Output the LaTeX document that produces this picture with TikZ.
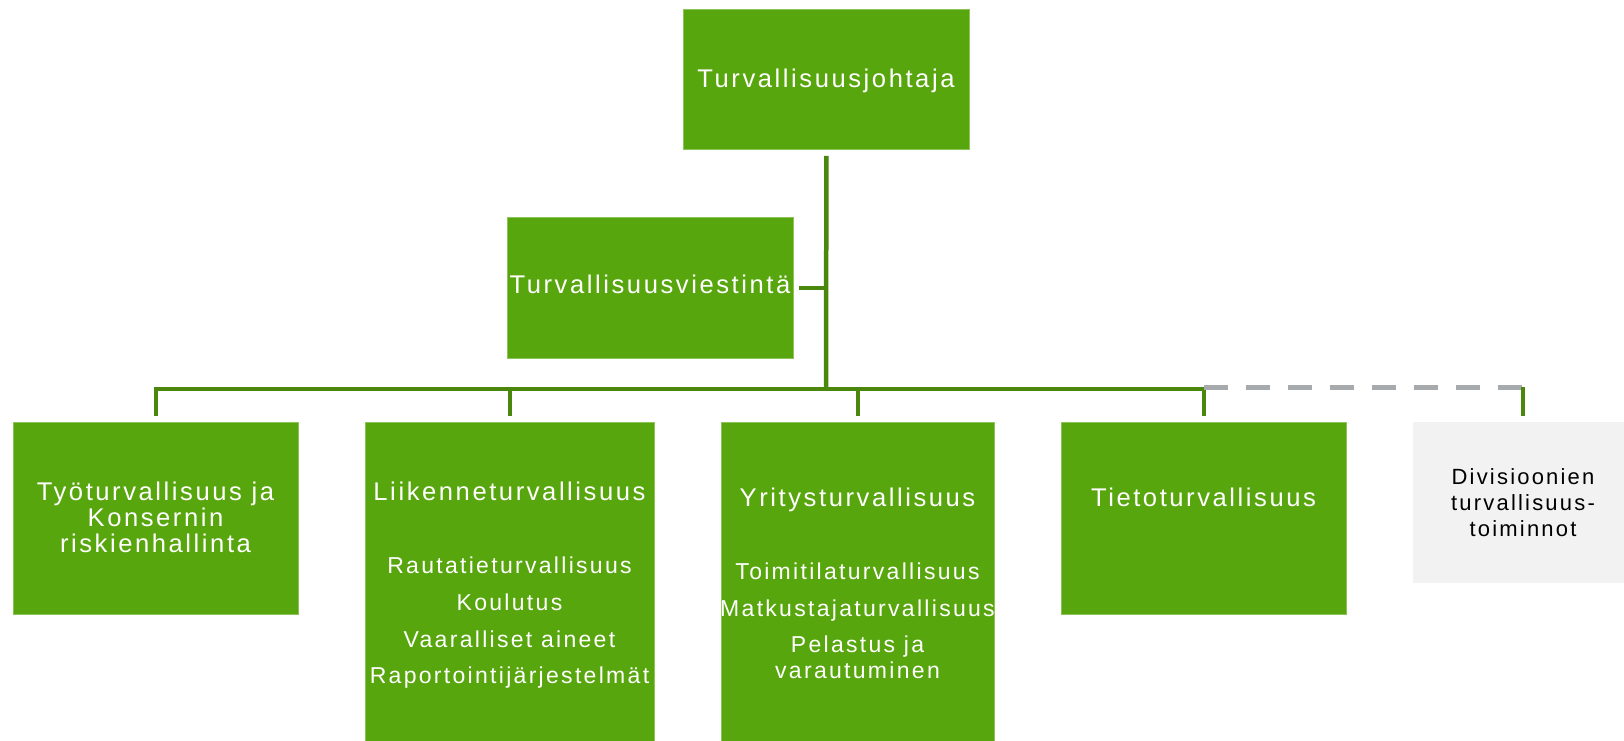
\documentclass[tikz,border=0pt]{standalone}
\usepackage{fontspec}
\setmainfont{Liberation Sans}[LetterSpace=10]
\definecolor{boxgreen}{RGB}{88,166,14}
\definecolor{boxedge}{RGB}{140,196,90}
\definecolor{connGreen}{RGB}{74,135,12}
\definecolor{dashgrey}{RGB}{166,170,173}
\definecolor{lightbox}{RGB}{242,242,242}
\begin{document}
\begin{tikzpicture}[x=1pt,y=-1pt,
  gbox/.style={draw=boxedge, line width=0.8pt, fill=boxgreen, anchor=north west, inner sep=0pt},
  head/.style={anchor=base, inner sep=0pt, text=white, font=\fontsize{25.6}{26}\selectfont},
  sub/.style={anchor=base, inner sep=0pt, text=white, font=\fontsize{23}{26}\selectfont},
  dtxt/.style={anchor=base, inner sep=0pt, text=black, font=\fontsize{22}{26}\selectfont},
  conn/.style={draw=connGreen, line width=4.5pt, line join=miter},
  dashline/.style={draw=dashgrey, line width=5pt, dash pattern=on 24pt off 18pt}]
\useasboundingbox[fill=white] (0,0) rectangle (1624,741);
% boxes
\node[gbox, minimum width=286pt, minimum height=140pt] (top) at (683,9) {};
\node[gbox, minimum width=286pt, minimum height=141pt] (viest) at (507,217) {};
\node[gbox, minimum width=285pt, minimum height=192pt] (box1) at (13,422) {};
\node[gbox, minimum width=289pt, minimum height=325pt] (box2) at (365,422) {};
\node[gbox, minimum width=273pt, minimum height=325pt] (box3) at (721,422) {};
\node[gbox, minimum width=285pt, minimum height=192pt] (box4) at (1061,422) {};
\node[fill=lightbox, anchor=north west, inner sep=0pt, minimum width=220pt, minimum height=161pt] (box5) at (1413,422) {};
% texts
\node[head] (t0) at (826,88) {Turvallisuusjohtaja};
\node[head] (tv) at (650,293) {Turvallisuusviestintä};
\node[head] (t11) at (155.5,500) {Työturvallisuus ja};
\node[head] (t12) at (155.5,526) {Konsernin};
\node[head] (t13) at (155.5,552) {riskienhallinta};
\node[head] (t21) at (509.5,500) {Liikenneturvallisuus};
\node[sub] (t22) at (509.5,573) {Rautatieturvallisuus};
\node[sub] (t23) at (509.5,610) {Koulutus};
\node[sub] (t24) at (509.5,647) {Vaaralliset aineet};
\node[sub] (t25) at (509.5,683) {Raportointijärjestelmät};
\node[head] (t31) at (857.5,506) {Yritysturvallisuus};
\node[sub] (t32) at (857.5,579) {Toimitilaturvallisuus};
\node[sub] (t33) at (857.5,616) {Matkustajaturvallisuus};
\node[sub] (t34) at (857.5,652) {Pelastus ja};
\node[sub] (t35) at (857.5,678) {varautuminen};
\node[head] (t41) at (1203.5,506) {Tietoturvallisuus};
\node[dtxt] (t51) at (1523,484) {Divisioonien};
\node[dtxt] (t52) at (1523,510) {turvallisuus-};
\node[dtxt] (t53) at (1523,536) {toiminnot};
% connectors
\coordinate (bus) at (826,389);
\draw[conn] ([yshift=-6pt]top.south) -- (bus);
\draw[conn] ([xshift=5pt]viest.east) -- (viest.east -| bus);
\draw[conn] ([yshift=6pt]box1.north) -- (box1.north |- bus) -- (box4.north |- bus) -- ([yshift=6pt]box4.north);
\draw[conn] (box2.north |- bus) -- ([yshift=6pt]box2.north);
\draw[conn] (box3.north |- bus) -- ([yshift=6pt]box3.north);
\draw[dashline] ([yshift=2pt]box4.north |- bus) -- ([yshift=2pt]box5.north |- bus);
\draw[conn] ([yshift=2pt]box5.north |- bus) -- ([yshift=6pt]box5.north);
\end{tikzpicture}
\end{document}
